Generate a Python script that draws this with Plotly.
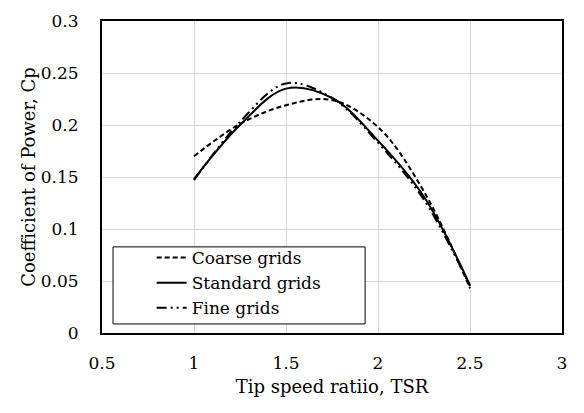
import plotly.graph_objects as go

tsr = [1.0, 1.25, 1.5, 1.75, 2.0, 2.25, 2.5]
coarse = [0.170, 0.201, 0.219, 0.224, 0.198, 0.136, 0.043]
standard = [0.148, 0.200, 0.235, 0.226, 0.185, 0.131, 0.046]
fine = [0.147, 0.203, 0.240, 0.226, 0.183, 0.128, 0.045]

FONT = "DejaVu Serif"

fig = go.Figure()
fig.add_trace(go.Scatter(x=tsr, y=coarse, name="Coarse grids", mode="lines",
                         line=dict(color="black", width=2, dash="5px,3px", shape="spline", smoothing=1.0)))
fig.add_trace(go.Scatter(x=tsr, y=standard, name="Standard grids", mode="lines",
                         line=dict(color="black", width=2, shape="spline", smoothing=1.0)))
fig.add_trace(go.Scatter(x=tsr, y=fine, name="Fine grids", mode="lines",
                         line=dict(color="black", width=2, dash="10px,4px,2px,4px,2px,4px", shape="spline", smoothing=1.0)))

# legend frame
fig.add_shape(type="rect", xref="x domain", yref="y domain",
              x0=0.024, x1=0.572, y0=0.029, y1=0.276,
              line=dict(color="black", width=1), fillcolor="white", layer="above")

fig.update_layout(
    width=584, height=413,
    margin=dict(l=102, r=22, t=21, b=80),
    paper_bgcolor="white", plot_bgcolor="white",
    font=dict(family=FONT, size=17, color="black"),
    showlegend=True,
    legend=dict(x=0.108, y=0.298, xanchor="left", yanchor="top",
                bgcolor="rgba(0,0,0,0)", borderwidth=0,
                font=dict(family=FONT, size=17), tracegroupgap=0,
                itemwidth=30),
    xaxis=dict(range=[0.5, 3], tickvals=[0.5, 1, 1.5, 2, 2.5, 3],
               ticktext=["0.5", "1", "1.5", "2", "2.5", "3"],
               showgrid=True, gridcolor="#d9d9d9", gridwidth=1,
               showline=True, linecolor="black", linewidth=2, mirror=True,
               ticks="", zeroline=False, ticklabelstandoff=14,
               title=dict(text="Tip speed ratiio, TSR", font=dict(family=FONT, size=18), standoff=8)),
    yaxis=dict(range=[0, 0.3], tickvals=[0, 0.05, 0.1, 0.15, 0.2, 0.25, 0.3],
               ticktext=["0", "0.05", "0.1", "0.15", "0.2", "0.25", "0.3"],
               showgrid=True, gridcolor="#d9d9d9", gridwidth=1,
               showline=True, linecolor="black", linewidth=2, mirror=True,
               ticks="", zeroline=False, ticklabelstandoff=18,
               title=dict(text="Coefficient of Power, Cp", font=dict(family=FONT, size=18), standoff=0)),
)

fig.write_html("out.html")
